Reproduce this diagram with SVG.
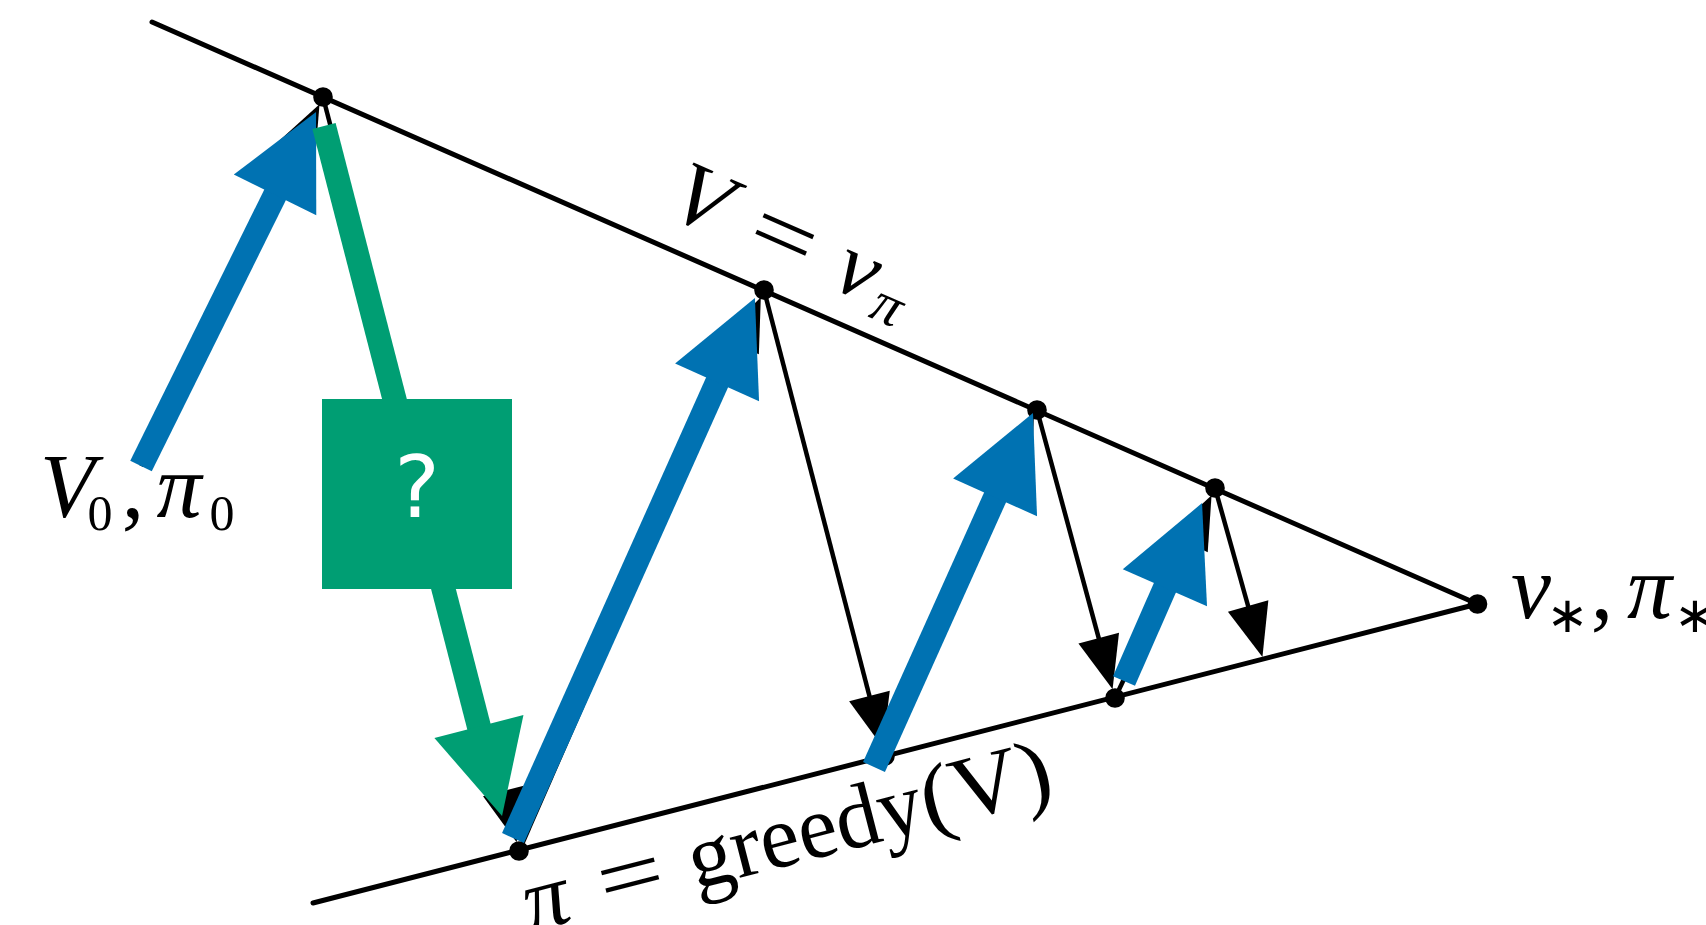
<svg xmlns="http://www.w3.org/2000/svg" width="1706" height="925" viewBox="0 0 1706 925">
<style>
.ln{stroke:#000;stroke-width:5;stroke-linecap:round;fill:none}
.k{stroke:#000;stroke-width:4.5;fill:none;marker-end:url(#hk)}
.b{stroke:#0072B2;stroke-width:24;fill:none;marker-end:url(#hb)}
.g{stroke:#009E73;stroke-width:24;fill:none;marker-end:url(#hg)}
.m{font-family:"Liberation Serif",serif;font-size:90px;fill:#000}
.i{font-style:italic}
</style>
<defs>
<marker id="hk" markerUnits="userSpaceOnUse" orient="auto" refX="0" refY="0" markerWidth="60" markerHeight="50" overflow="visible"><path d="M-1,-21 L52,0 L-1,21 Z" fill="#000"/></marker>
<marker id="hb" markerUnits="userSpaceOnUse" orient="auto" refX="0" refY="0" markerWidth="100" markerHeight="100" overflow="visible"><path d="M-1.5,-46 L91,0 L-1.5,46 Z" fill="#0072B2"/></marker>
<marker id="hg" markerUnits="userSpaceOnUse" orient="auto" refX="0" refY="0" markerWidth="100" markerHeight="100" overflow="visible"><path d="M-1.5,-46 L91,0 L-1.5,46 Z" fill="#009E73"/></marker>
</defs>
<rect width="1706" height="925" fill="#fff"/>
<g id="lines">
<line class="ln" x1="152" y1="22" x2="1477.5" y2="604"/>
<line class="ln" x1="313" y1="903" x2="1477.5" y2="604"/>
</g>
<g id="points">
<circle id="p0" cx="323" cy="97" r="9.8"/>
<circle id="p1" cx="764" cy="290" r="9.8"/>
<circle id="p2" cx="1037" cy="410" r="9.8"/>
<circle id="p3" cx="1215" cy="488" r="9.8"/>
<circle id="vstar" cx="1477.5" cy="604" r="9.8"/>
<circle id="q0" cx="519" cy="851" r="9.8"/>
<circle id="q1" cx="885" cy="756" r="9.8"/>
<circle id="q2" cx="1115" cy="698" r="9.8"/>
</g>
<g id="connectors">
<line class="k" x1="141" y1="466" x2="296.5" y2="150.8"/>
<line class="k" x1="519" y1="851" x2="740" y2="345"/>
<line class="k" x1="885" y1="756" x2="1012.9" y2="464.9"/>
<line class="k" x1="1115" y1="698" x2="1189.2" y2="542.2"/>
<line class="k" x1="323" y1="97" x2="503.6" y2="792"/>
<line class="k" x1="764" y1="290" x2="869.7" y2="697"/>
<line class="k" x1="1037" y1="410" x2="1099" y2="639.1"/>
<line class="k" x1="1215" y1="488" x2="1248.4" y2="607"/>
<line class="b" x1="141" y1="466" x2="275.7" y2="193.6"/>
<line class="b" x1="513" y1="838" x2="717.7" y2="381"/>
<line class="b" x1="874" y1="767" x2="995.7" y2="496"/>
<line class="b" x1="1124" y1="681" x2="1165.5" y2="586.4"/>
<line class="g" x1="324" y1="126" x2="479.3" y2="727.9"/>
</g>
<g id="question">
<rect x="322" y="399" width="190" height="190" fill="#009E73"/>
<text x="417" y="517" text-anchor="middle" font-family="DejaVu Sans, sans-serif" font-size="86" fill="#fff">?</text>
</g>
<g id="label-v0">
<text class="m i" x="67.5" y="517" text-anchor="middle">V</text>
<text class="m" x="100" y="530" text-anchor="middle" style="font-size:50px">0</text>
<text class="m" x="133" y="517" text-anchor="middle">,</text>
<text class="m i" x="179" y="517" text-anchor="middle">π</text>
<text class="m" x="222" y="530" text-anchor="middle" style="font-size:50px">0</text>
</g>
<g id="label-vpi" transform="translate(662,213) rotate(23.7)">
<text class="m i" x="31" y="0" text-anchor="middle">V</text>
<text class="m" transform="translate(121,0) scale(1.3,1)" x="0" y="0" text-anchor="middle">=</text>
<text class="m i" x="203" y="0" text-anchor="middle">v</text>
<text class="m i" x="244" y="12" text-anchor="middle" style="font-size:58px">π</text>
</g>
<g id="label-greedy" transform="translate(529,932) rotate(-14.4)">
<text class="m i" x="24" y="0" text-anchor="middle">π</text>
<text class="m" transform="translate(112,0) scale(1.3,1)" x="0" y="0" text-anchor="middle">=</text>
<text class="m" x="172" y="0" textLength="240" lengthAdjust="spacingAndGlyphs">greedy</text>
<text class="m" x="412" y="0" textLength="133" lengthAdjust="spacingAndGlyphs">(V)</text>
</g>
<g id="label-vstar">
<text class="m i" x="1531" y="618" text-anchor="middle">v</text>
<text x="1567.5" y="632" text-anchor="middle" font-family="DejaVu Sans, sans-serif" font-size="50">∗</text>
<text class="m" x="1602" y="618" text-anchor="middle">,</text>
<text class="m i" x="1649.5" y="618" text-anchor="middle">π</text>
<text x="1695" y="632" text-anchor="middle" font-family="DejaVu Sans, sans-serif" font-size="50">∗</text>
</g>
</svg>
